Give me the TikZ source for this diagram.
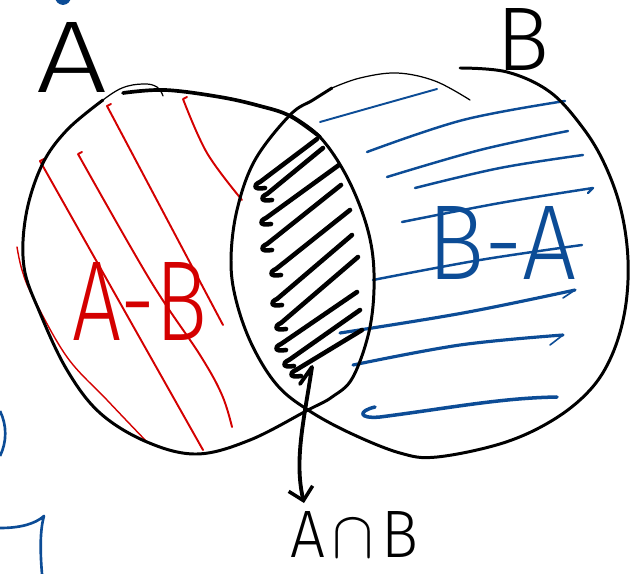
\documentclass[tikz,border=0pt]{standalone}
\usepackage{fontspec}
\setmainfont{DejaVu Sans}
\newfontfamily\handfont{Fira Sans Light}
\usepackage{graphicx}
\usetikzlibrary{arrows.meta}
\definecolor{myred}{RGB}{212,0,0}
\definecolor{myblue}{RGB}{12,76,150}
\begin{document}
\begin{tikzpicture}[x=0.02cm,y=-0.02cm,
  outline/.style={line width=1.7pt,line cap=round,line join=round},
  thinout/.style={line width=0.7pt,line cap=round},
  boldout/.style={line width=2.1pt,line cap=round},
  redh/.style={draw=myred,line width=1.1pt,line cap=round,line join=round},
  blueh/.style={draw=myblue,line width=1.4pt,line cap=round,line join=round},
  scribble/.style={line width=2.6pt,line cap=round,line join=round},
  lab/.style={inner sep=0pt,outer sep=0pt,font=\handfont},
  arr/.style={line width=2.2pt,line cap=round,line join=round,-{Straight Barb[length=7pt,width=14pt,line width=2pt]}}]
\useasboundingbox (0,0) rectangle (635,574);
\fill[white] (0,0) rectangle (635,574);

% red hatch (A - B)
\draw[redh,line width=0.8pt] plot[smooth,tension=0.6] coordinates {(17,247) (22,270) (33,297) (67,357) (107,400) (147,442)};
\draw[redh] (44,159) -- (40,161) -- (203,450);
\draw[redh] (82,152) -- (78,154) plot[smooth,tension=0.6] coordinates {(78,154) (150,280) (200,355) (222,395) (232,427)};
\draw[redh] (111,104) -- (107,106) -- (223,325);
\draw[redh] (187,97) -- (183,99) plot[smooth,tension=0.6] coordinates {(183,99) (207,153) (242,200)};

% blue hatch (B - A)
\draw[blueh,line width=1.1pt] plot[smooth,tension=0.6] coordinates {(320,122) (380,105) (437,89)};
\draw[blueh] plot[smooth,tension=0.6] coordinates {(367,152) (463,120) (565,101)};
\draw[blueh] plot[smooth,tension=0.6] coordinates {(387,177) (480,150) (568,131)};
\draw[blueh] plot[smooth,tension=0.6] coordinates {(415,188) (500,168) (583,155)};
\draw[blueh] plot[smooth,tension=0.6] coordinates {(402,222) (500,203) (593,188)} -- (588,193);
\draw[blueh] plot[smooth,tension=0.6] coordinates {(373,280) (480,260) (582,245)};
\draw[blueh,line width=1.8pt] plot[smooth,tension=0.6] coordinates {(340,333) (463,313) (575,290)};
\draw[blueh,line width=0.9pt] (575,290) -- (563,298);
\draw[blueh,line width=1.8pt] plot[smooth,tension=0.6] coordinates {(353,365) (460,345) (563,335)};
\draw[blueh,line width=0.9pt] (563,335) -- (550,345);
\draw[blueh,line width=2pt] (375,407) .. controls (358,411) and (358,419) .. (380,417) .. controls (450,408) and (500,398) .. (557,397);

% black scribble (A intersect B)
\foreach \lx/\ly/\rx/\ry in {256/186/317/139, 263/198/323/148, 262/222/339/165, 263/248/341/185, 272/273/350/210, 273/303/352/235, 277/327/358/257, 277/348/357/292, 285/364/360/310, 292/374/362/330}
  \draw[scribble] ({\lx+9},{\ly+2}) .. controls ({\lx-3},{\ly+4}) and ({\lx-3},{\ly-1}) .. ({\lx+4},{\ly-4}) -- (\rx,\ry);

% set A outline
\draw[thinout] plot[smooth,tension=0.7] coordinates {(163,96) (157,87) (143,84) (122,88) (103,100)};
\draw[outline] plot[smooth,tension=0.6] coordinates {(103,100) (67,130) (42,165) (26,215) (24,267) (40,313) (67,370) (100,413) (147,442) (197,454) (250,440) (308,410) (332,397) (353,377) (370,327) (374,273) (367,227) (347,177) (320,137) (290,115)};
\draw[boldout] plot[smooth,tension=0.6] coordinates {(123,93) (165,90) (220,97) (260,106) (290,116) (320,137)};

% set B outline
\draw[outline] plot[smooth,tension=0.6] coordinates {(460,68) (507,72) (550,92) (583,128) (605,165) (621,210) (628,260) (625,310) (612,355) (590,390) (553,420) (503,443) (437,457) (400,453) (350,433) (308,410) (277,385) (252,345) (236,300) (231,260) (237,210) (255,160) (290,115) (313,100) (332,88)};
\draw[thinout] plot[smooth,tension=0.6] coordinates {(332,88) (360,78) (397,73) (435,81) (470,100)};

% stray marks at the edges
\fill[myblue] (63,-3) circle[radius=4.5pt];
\draw[myblue,line width=1.5pt] (0,411) .. controls (7,425) and (7,442) .. (0,456);
\draw[myblue,line width=1.5pt,line join=round] (0,528) .. controls (20,528) and (35,524) .. (44,516) .. controls (40,530) and (40,550) .. (42,574);

% labels
\node[lab] (labA) at (72,57) {\resizebox{1.42cm}{1.4cm}{A}};
\node[lab] (labB) at (523,39) {\resizebox{1.06cm}{1.24cm}{B}};
\node[lab,text=myred] (amb) at (140,301) {\resizebox{2.7cm}{1.56cm}{A-B}};
\node[lab,text=myblue] (bma) at (502,243) {\resizebox{2.98cm}{1.46cm}{B-A}};
\node[lab] (inter) at (354,534) {\resizebox{2.56cm}{0.92cm}{A\hspace{0.12em}$\cap$\hspace{0.12em}B}};

% arrow to the intersection label
\coordinate (hook) at (300,384);
\coordinate (lens) at (312,367);
\coordinate (tip) at (304,503);
\draw[arr] (hook) -- (lens) .. controls (304,420) and (294,460) .. (tip);
\end{tikzpicture}
\end{document}
